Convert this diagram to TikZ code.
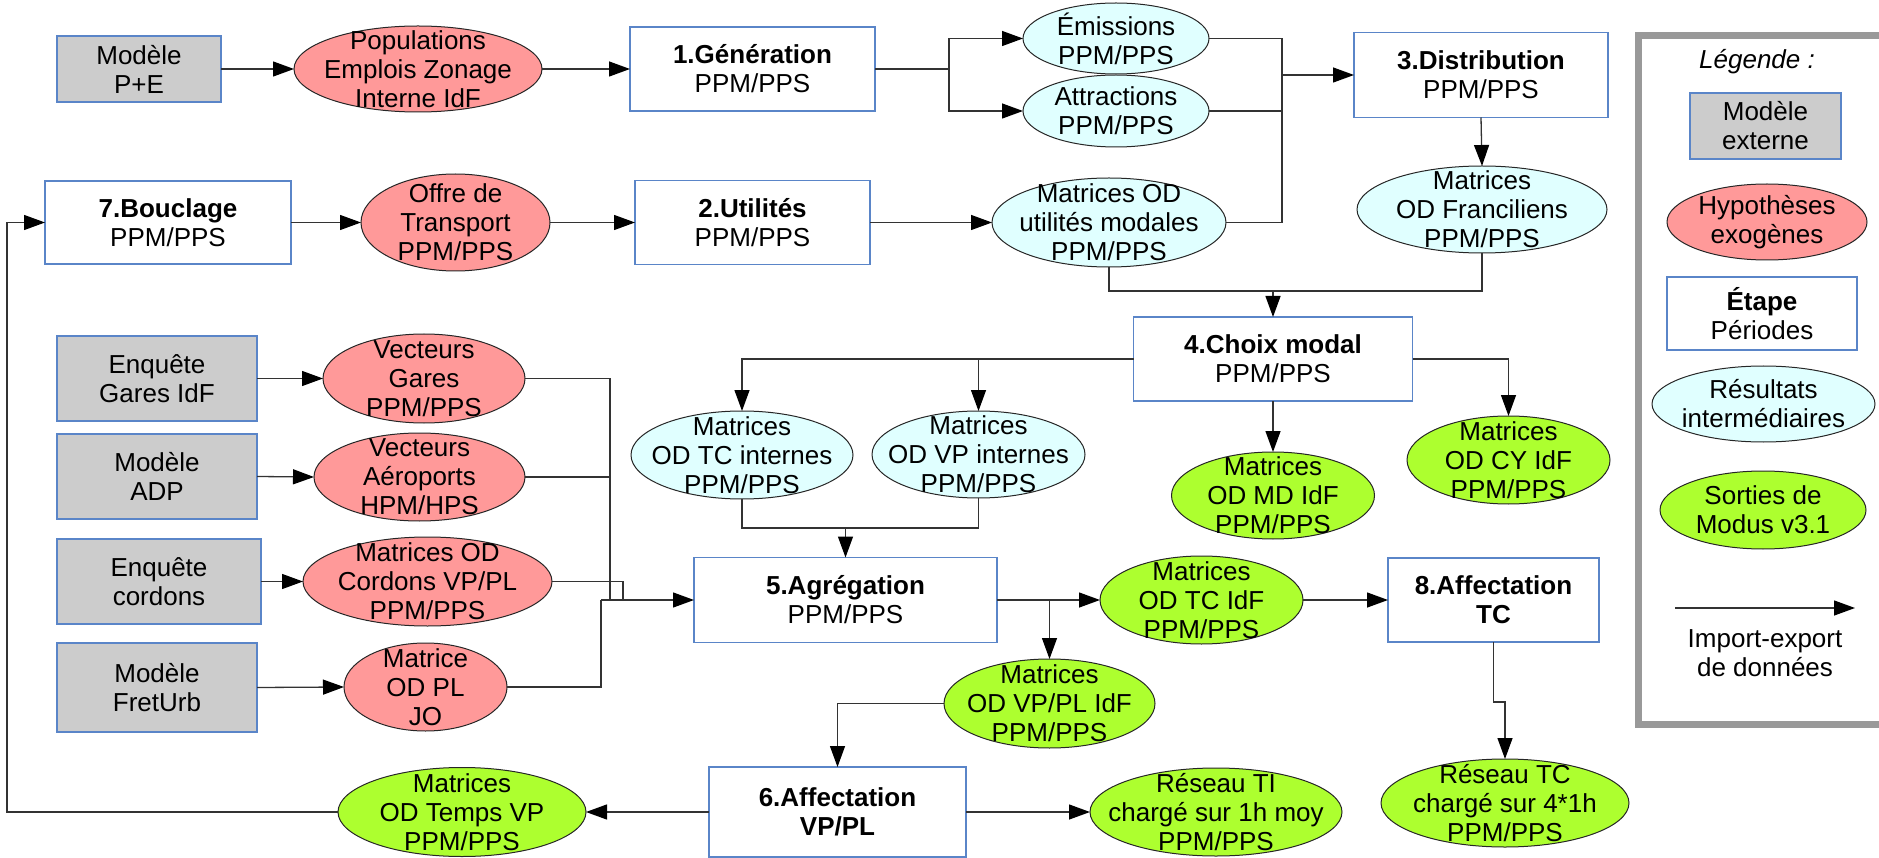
\documentclass[tikz,border=0pt]{standalone}
\usepackage{fontspec}
\setmainfont{Liberation Sans}
\usetikzlibrary{shapes.geometric,arrows.meta}
\definecolor{pinkf}{HTML}{FF9999}
\definecolor{cyanf}{HTML}{E0FFFF}
\definecolor{greenf}{HTML}{ADFF2F}
\definecolor{grayf}{HTML}{CCCCCC}
\definecolor{boxline}{HTML}{5A85C8}
\definecolor{legline}{HTML}{999999}
\definecolor{conn}{HTML}{333333}
\begin{document}
\begin{tikzpicture}[x=1pt,y=-1pt,
  every node/.style={font=\fontsize{26}{29}\selectfont, inner sep=0pt, outer sep=0pt},
  stepbox/.style={draw=boxline, line width=1.2pt, fill=white, rectangle, align=center},
  extbox/.style={stepbox, fill=grayf},
  ellbase/.style={draw=black!85, line width=1pt, ellipse},
  hyp/.style={ellbase, fill=pinkf},
  inter/.style={ellbase, fill=cyanf},
  outp/.style={ellbase, fill=greenf},
  txt/.style={align=center},
  ln/.style={draw=conn, line width=1.3pt},
  arr/.style={ln, -{Triangle[length=21pt,width=15pt,black]}}]
\useasboundingbox (0,0) rectangle (1879,858);
\clip (0,0) rectangle (1879,858);

% ---------- rectangles ----------
\node[extbox, minimum width=164pt, minimum height=66pt] (mpe) at (139,69) {Modèle\\P+E};
\node[stepbox, minimum width=245pt, minimum height=84pt] (gen) at (752.5,69) {\textbf{1.Génération}\\PPM/PPS};
\node[stepbox, minimum width=254pt, minimum height=85pt] (dist) at (1481,75) {\textbf{3.Distribution}\\PPM/PPS};
\node[stepbox, minimum width=246pt, minimum height=83pt] (bouc) at (168,222.5) {\textbf{7.Bouclage}\\PPM/PPS};
\node[stepbox, minimum width=235pt, minimum height=84pt] (util) at (752.5,222.5) {\textbf{2.Utilités}\\PPM/PPS};
\node[stepbox, minimum width=279pt, minimum height=84pt] (choix) at (1273,359) {\textbf{4.Choix modal}\\PPM/PPS};
\node[extbox, minimum width=200pt, minimum height=85pt] (egares) at (157,378.5) {Enquête\\Gares IdF};
\node[extbox, minimum width=200pt, minimum height=85pt] (madp) at (157,476.5) {Modèle\\ADP};
\node[extbox, minimum width=204pt, minimum height=85pt] (ecord) at (159,581.5) {Enquête\\cordons};
\node[extbox, minimum width=200pt, minimum height=89pt] (mfret) at (157,687.5) {Modèle\\FretUrb};
\node[stepbox, minimum width=303pt, minimum height=85pt] (agreg) at (845.5,600) {\textbf{5.Agrégation}\\PPM/PPS};
\node[stepbox, minimum width=211pt, minimum height=84pt] (afftc) at (1493.5,600) {\textbf{8.Affectation}\\\textbf{TC}};
\node[stepbox, minimum width=257pt, minimum height=90pt] (affvp) at (837.5,812) {\textbf{6.Affectation}\\\textbf{VP/PL}};

% ---------- ellipses ----------
\node[hyp, minimum width=248pt, minimum height=86pt] (pop) at (418,69) {};
\node[txt] (pop-t) at (pop) {Populations\\Emplois Zonage\\Interne IdF};
\node[inter, minimum width=186pt, minimum height=71pt] (emis) at (1116,38.5) {};
\node[txt] (emis-t) at (emis) {Émissions\\PPM/PPS};
\node[inter, minimum width=186pt, minimum height=72pt] (attr) at (1116,111) {};
\node[txt] (attr-t) at (attr) {Attractions\\PPM/PPS};
\node[inter, minimum width=250pt, minimum height=87pt] (franc) at (1482,209.5) {};
\node[txt] (franc-t) at (franc) {Matrices\\OD Franciliens\\PPM/PPS};
\node[hyp, minimum width=189pt, minimum height=97pt] (offre) at (455.5,222.5) {};
\node[txt] (offre-t) at (offre) {Offre de\\Transport\\PPM/PPS};
\node[inter, minimum width=234pt, minimum height=89pt] (utilm) at (1109,222.5) {};
\node[txt] (utilm-t) at (utilm) {Matrices OD\\utilités modales\\PPM/PPS};
\node[hyp, minimum width=202pt, minimum height=89pt] (vgares) at (424,378.5) {};
\node[txt] (vgares-t) at (vgares) {Vecteurs\\Gares\\PPM/PPS};
\node[hyp, minimum width=211pt, minimum height=88pt] (vaero) at (419.5,477) {};
\node[txt] (vaero-t) at (vaero) {Vecteurs\\Aéroports\\HPM/HPS};
\node[hyp, minimum width=249pt, minimum height=89pt] (mcord) at (427.5,581.5) {};
\node[txt] (mcord-t) at (mcord) {Matrices OD\\Cordons VP/PL\\PPM/PPS};
\node[hyp, minimum width=163pt, minimum height=88pt] (mpl) at (425.5,687) {};
\node[txt] (mpl-t) at (mpl) {Matrice\\OD PL\\JO};
\node[inter, minimum width=222pt, minimum height=88pt] (tcint) at (742,455) {};
\node[txt] (tcint-t) at (tcint) {Matrices\\OD TC internes\\PPM/PPS};
\node[inter, minimum width=213pt, minimum height=87pt] (vpint) at (978.5,454.5) {};
\node[txt] (vpint-t) at (vpint) {Matrices\\OD VP internes\\PPM/PPS};
\node[outp, minimum width=203pt, minimum height=87pt] (mdidf) at (1273,495.5) {};
\node[txt] (mdidf-t) at (mdidf) {Matrices\\OD MD IdF\\PPM/PPS};
\node[outp, minimum width=203pt, minimum height=88pt] (cyidf) at (1508.5,460) {};
\node[txt] (cyidf-t) at (cyidf) {Matrices\\OD CY IdF\\PPM/PPS};
\node[outp, minimum width=203pt, minimum height=88pt] (tcidf) at (1201.5,600) {};
\node[txt] (tcidf-t) at (tcidf) {Matrices\\OD TC IdF\\PPM/PPS};
\node[outp, minimum width=211pt, minimum height=89pt] (vpplidf) at (1049.5,703.5) {};
\node[txt] (vpplidf-t) at (vpplidf) {Matrices\\OD VP/PL IdF\\PPM/PPS};
\node[outp, minimum width=248pt, minimum height=89pt] (tempsvp) at (462,812) {};
\node[txt] (tempsvp-t) at (tempsvp) {Matrices\\OD Temps VP\\PPM/PPS};
\node[outp, minimum width=252pt, minimum height=88pt] (resti) at (1216,812) {};
\node[txt] (resti-t) at (resti) {Réseau TI\\chargé sur 1h moy\\PPM/PPS};
\node[outp, minimum width=248pt, minimum height=88pt] (restc) at (1505,803) {};
\node[txt] (restc-t) at (restc) {Réseau TC\\chargé sur 4*1h\\PPM/PPS};

% ---------- connectors ----------
\draw[arr] (mpe.east) -- (pop.west);
\draw[arr] (pop.east) -- (gen.west);
\coordinate (b1) at (949,69);
\draw[ln] (gen.east) -- (b1);
\draw[arr] (b1) |- (emis.west);
\draw[arr] (b1) |- (attr.west);
\coordinate (j1) at (1282,75);
\draw[ln] (emis.east) -| (j1);
\draw[ln] (attr.east) -| (j1);
\draw[ln] (utilm.east) -| (j1);
\draw[arr] (j1) -- (dist.west);
\draw[arr] (dist.south) -- (franc.north);
\draw[arr] (bouc.east) -- (offre.west);
\draw[arr] (offre.east) -- (util.west);
\draw[arr] (util.east) -- (utilm.west);
\coordinate (j2) at (1273,291);
\draw[ln] (utilm.south) |- (j2);
\draw[ln] (franc.south) |- (j2);
\draw[arr] (j2) -- (choix.north);
\draw[arr] (choix.west) -| (tcint.north);
\draw[arr] (vpint.north |- choix.west) -- (vpint.north);
\draw[arr] (choix.east) -| (cyidf.north);
\draw[arr] (choix.south) -- (mdidf.north);
\coordinate (j3) at (845.5,528);
\draw[ln] (tcint.south) |- (j3);
\draw[ln] (vpint.south) |- (j3);
\draw[arr] (j3) -- (agreg.north);
\coordinate (j4) at (610,600);
\coordinate (j5) at (623,600);
\coordinate (j6) at (601,600);
\draw[ln] (vgares.east) -| (j4);
\draw[ln] (vaero.east) -| (j4);
\draw[ln] (mcord.east) -| (j5);
\draw[ln] (mpl.east) -| (j6);
\draw[arr] (j6) -- (agreg.west);
\draw[arr] (egares.east) -- (vgares.west);
\draw[arr] (madp.east) -- (vaero.west);
\draw[arr] (ecord.east) -- (mcord.west);
\draw[arr] (mfret.east) -- (mpl.west);
\draw[arr] (agreg.east) -- (tcidf.west);
\coordinate (b2) at (1049.5,600);
\draw[arr] (b2) -- (vpplidf.north);
\draw[arr] (tcidf.east) -- (afftc.west);
\coordinate (k1) at (1493.5,702);
\coordinate (k2) at (1505,702);
\draw[arr] (afftc.south) -- (k1) -- (k2) -- (restc.north);
\draw[arr] (vpplidf.west) -| (affvp.north);
\draw[arr] (affvp.west) -- (tempsvp.east);
\draw[arr] (affvp.east) -- (resti.west);
\coordinate (k3) at (7,812);
\draw[arr] (tempsvp.west) -- (k3) |- (bouc.west);

% ---------- legend ----------
\draw[draw=legline, line width=7pt] (1638.5,35.5) rectangle (1900,724.5);
\node[font=\fontsize{26}{29}\selectfont\itshape] (legt) at (1757,62) {Légende :};
\node[extbox, minimum width=151pt, minimum height=66pt] (lmod) at (1765.5,126) {Modèle\\externe};
\node[hyp, minimum width=200pt, minimum height=76pt] (lhyp) at (1767,222) {};
\node[txt] (lhyp-t) at (lhyp) {Hypothèses\\exogènes};
\node[stepbox, minimum width=190pt, minimum height=73pt] (letape) at (1762,313.5) {\textbf{Étape}\\Périodes};
\node[inter, minimum width=223pt, minimum height=76pt] (lres) at (1763.5,404) {};
\node[txt] (lres-t) at (lres) {Résultats\\intermédiaires};
\node[outp, minimum width=206pt, minimum height=78pt] (lsort) at (1763,510) {};
\node[txt] (lsort-t) at (lsort) {Sorties de\\Modus v3.1};
\coordinate (la) at (1675,608);
\coordinate (lb) at (1855,608);
\draw[arr] (la) -- (lb);
\node[txt] (limp) at (1765,653.5) {Import-export\\de données};
\end{tikzpicture}
\end{document}
